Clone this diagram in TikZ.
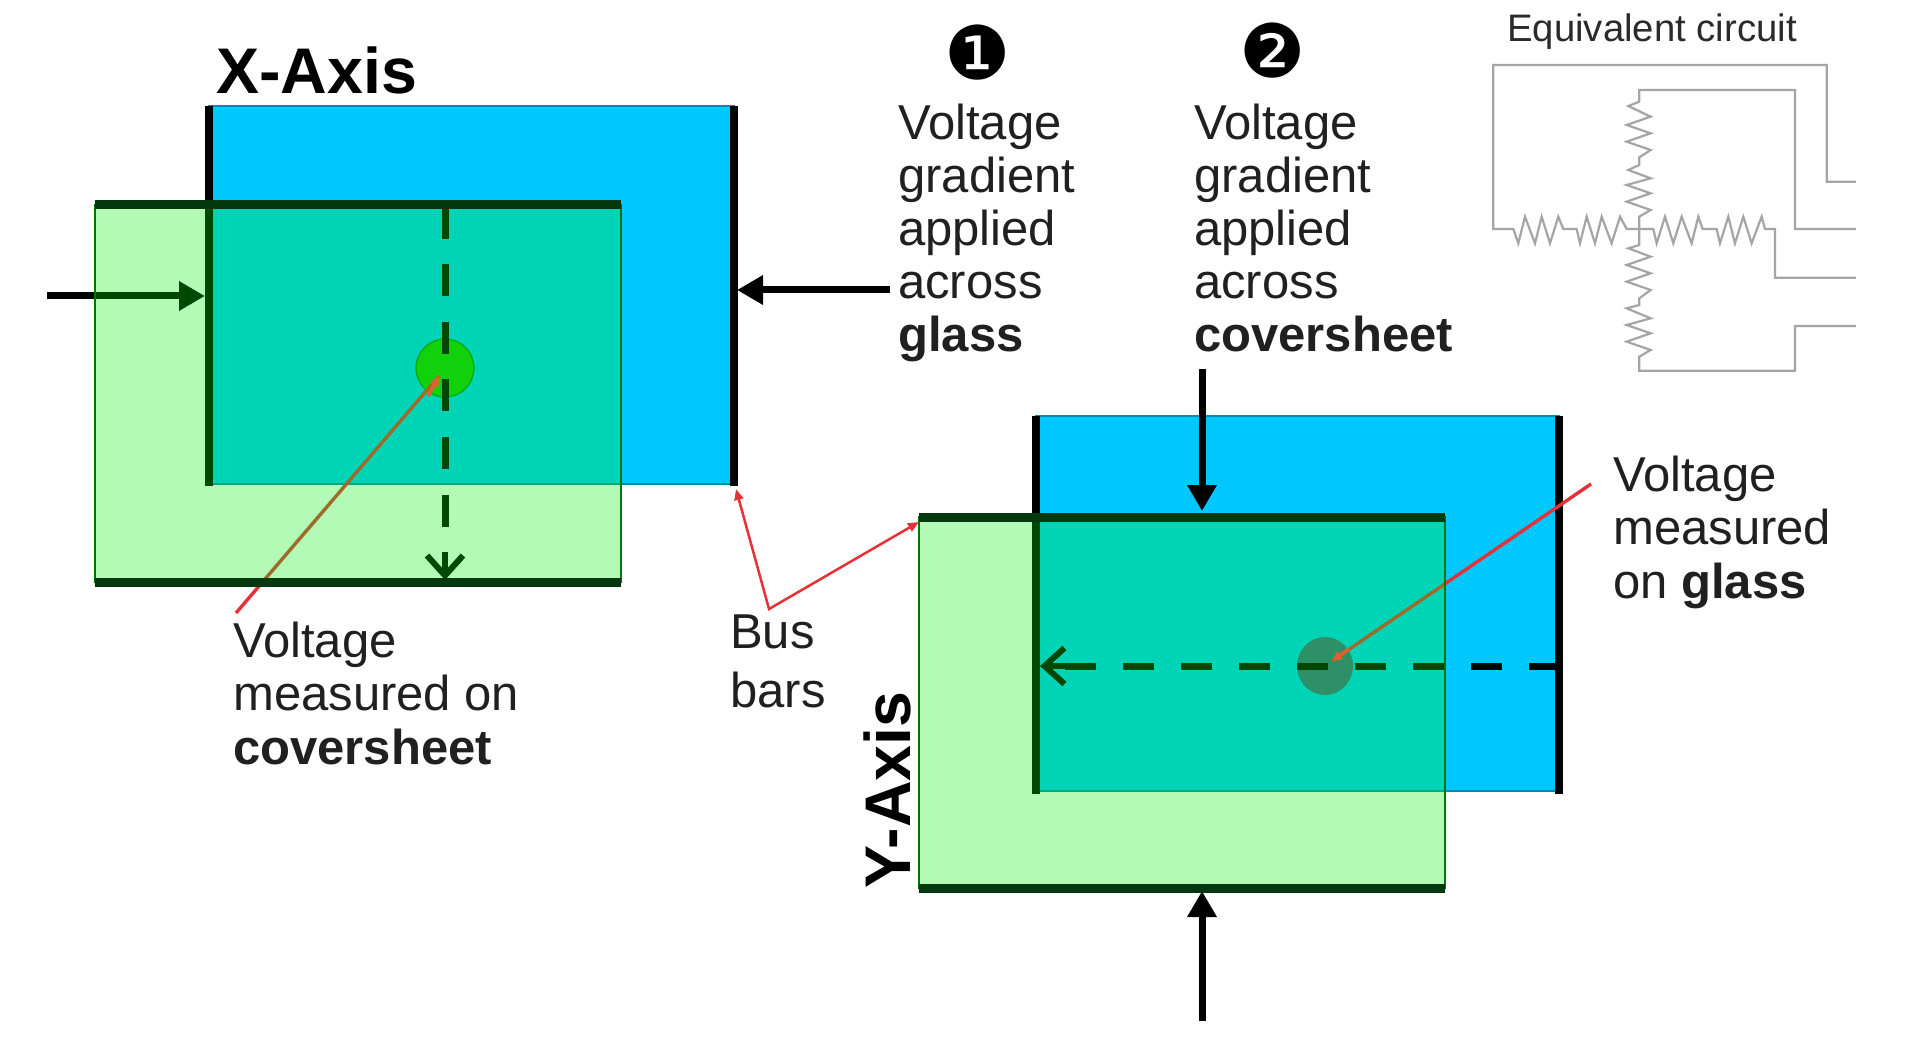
\documentclass[tikz,border=0pt]{standalone}
\usepackage{fontspec}
\setmainfont{Liberation Sans}
\newfontfamily\symfont{DejaVu Sans}
\usetikzlibrary{arrows.meta}
\definecolor{bluesheet}{RGB}{0,200,255}
\definecolor{overlayg}{RGB}{0,240,15}
\definecolor{bardark}{RGB}{4,56,14}
\definecolor{redline}{RGB}{228,50,55}
\definecolor{tipred}{RGB}{225,95,50}
\definecolor{txt}{RGB}{32,32,32}
\definecolor{wire}{RGB}{165,165,165}
\definecolor{dotx}{RGB}{23,196,10}
\definecolor{doty}{RGB}{66,103,140}
\tikzset{
  bluerect/.style={fill=bluesheet,draw=bluesheet!70!black,line width=1.5pt},
  greenrect/.style={fill=overlayg,fill opacity=0.3,draw=none},
  greenedge/.style={draw=bardark!70!green,line width=1.5pt},
  blackbar/.style={draw=black,line width=8.5pt},
  greenbar/.style={draw=bardark,line width=9pt},
  bigarrow/.style={draw=black,line width=7pt,-{Triangle[length=26pt,width=28pt]}},
  dashline/.style={draw=black,line width=7pt,dash pattern=on 32pt off 25.5pt},
  barbarrow/.style={draw=black,line width=6pt,-{Straight Barb[length=20pt,width=36pt,line width=6pt]}},
  redl/.style={draw=redline,line width=3.4pt},
  redtip/.style={draw=tipred,line width=3.4pt,-{Triangle[length=10pt,width=9pt]}},
  busarrow/.style={draw=redline,line width=2.5pt,{Triangle[length=11pt,width=9pt]}-{Triangle[length=11pt,width=9pt]}},
  para/.style={anchor=base west,inner sep=0pt,align=left,text=txt,font=\fontsize{49}{53.2}\selectfont},
  axis/.style={inner sep=0pt,text=black,font=\fontsize{64.5}{64.5}\selectfont\bfseries},
  num/.style={inner sep=0pt,text=black,font=\fontsize{74}{74}\selectfont\symfont},
  wireline/.style={draw=wire,line width=2.2pt,line join=miter},
  eqt/.style={anchor=base west,inner sep=0pt,text=txt!90!gray,font=\fontsize{38.3}{38.3}\selectfont}
}
\begin{document}
\begin{tikzpicture}[x=1pt,y=-1pt]
\useasboundingbox (0,0) rectangle (1920,1040);
\fill[white] (0,0) rectangle (1920,1040);

% ---------- X axis ----------
\coordinate (xbl) at (209,106); \coordinate (xbr) at (734,484);
\coordinate (xgl) at (95,205);  \coordinate (xgr) at (621,582);
\filldraw[bluerect] (xbl) rectangle (xbr);
\draw[blackbar] (209,106) -- (209,486);
\draw[blackbar] (734,106) -- (734,486);
\fill[dotx] (445,368) circle (29);
\draw[dotx!70!black,line width=1.2pt] (445,368) circle (29);
\coordinate (xd1) at (445,207); \coordinate (xd2) at (445,528);
\draw[dashline] (xd1) -- (xd2);
\coordinate (xa1) at (445,552); \coordinate (xa2) at (445,580);
\draw[barbarrow] (xa1) -- (xa2);
\coordinate (xl1) at (47,296); \coordinate (xl2) at (205,296);
\draw[bigarrow] (xl1) -- (xl2);
\coordinate (xm1) at (236,613); \coordinate (xm2) at (439,376);
\draw[redl] (xm1) -- (xm2);
\path[greenrect] (xgl) rectangle (xgr);
\draw[greenedge] (xgl) rectangle (xgr);
\draw[greenbar] (95,205) -- (621,205);
\draw[greenbar] (95,582) -- (621,582);
\coordinate (xt1) at (428,396);
\draw[redtip] (xt1) -- (xm2);
\coordinate (xr1) at (890,290); \coordinate (xr2) at (737,290);
\draw[bigarrow] (xr1) -- (xr2);
\node[axis,anchor=base west] (xaxis) at (216,94) {X-Axis};

% ---------- Y axis ----------
\coordinate (ybl) at (1036,416); \coordinate (ybr) at (1559,791);
\coordinate (ygl) at (919,517);  \coordinate (ygr) at (1445,888);
\filldraw[bluerect] (ybl) rectangle (ybr);
\draw[blackbar] (1036,416) -- (1036,794);
\draw[blackbar] (1559,416) -- (1559,794);
\fill[doty] (1325,666) ellipse (28 and 29);
\coordinate (yd1) at (1556,666); \coordinate (yd2) at (1065,666);
\draw[dashline,dash pattern=on 27pt off 27pt on 31pt off 27pt on 31pt off 27pt on 31pt off 27pt on 31pt off 27pt on 31pt off 27pt on 31pt off 27pt on 31pt off 27pt on 31pt] (yd1) -- (yd2);
\coordinate (ya1) at (1066,666); \coordinate (ya2) at (1040,666);
\draw[barbarrow] (ya1) -- (ya2);
\coordinate (ym1) at (1591,484); \coordinate (ym2) at (1332,661);
\draw[redl] (ym1) -- (ym2);
\path[greenrect] (ygl) rectangle (ygr);
\draw[greenedge] (ygl) rectangle (ygr);
\draw[greenbar] (919,517) -- (1445,517);
\draw[greenbar] (919,888) -- (1445,888);
\coordinate (yt1) at (1349,649);
\draw[redtip] (yt1) -- (ym2);
\coordinate (yu1) at (1202,369); \coordinate (yu2) at (1202,511);
\draw[bigarrow] (yu1) -- (yu2);
\coordinate (yw1) at (1202,1021); \coordinate (yw2) at (1202,891);
\draw[bigarrow] (yw1) -- (yw2);
\node[axis,anchor=base west,rotate=90] (yaxis) at (910,889) {Y-Axis};

% ---------- Bus bars ----------
\coordinate (bx) at (736,489); \coordinate (bv) at (769,609); \coordinate (by) at (919,522);
\draw[busarrow] (bx) -- (bv) -- (by);

% ---------- Text ----------
\node[num] (n1) at (978,53) {❶};
\node[num] (n2) at (1273,51) {❷};
\node[para] (t1) at (898,352) {Voltage\\gradient\\applied\\across\\\textbf{glass}};
\node[para] (t2) at (1194,352) {Voltage\\gradient\\applied\\across\\\textbf{coversheet}};
\node[para] (t3) at (233,764) {Voltage\\measured on\\\textbf{coversheet}};
\node[para] (t4) at (730,707) {Bus\\[5pt]bars};
\node[para] (t5) at (1613,598) {Voltage\\measured\\on \textbf{glass}};
\node[eqt] (eq) at (1507,42) {Equivalent circuit};

% ---------- Circuit ----------
\begin{scope}[x=0.33333pt,y=-0.33333pt,shift={(4440,0)}]
\draw[wireline] (1128,545) -- (1040,545) -- (1040,195) -- (40,195) -- (40,687) -- (100,687)
  -- (115,730) -- (135,650) -- (165,730) -- (185,650) -- (210,730) -- (235,650) -- (250,687) -- (290,687)
  -- (300,730) -- (320,650) -- (345,730) -- (365,650) -- (395,730) -- (420,650) -- (440,687)
  -- (520,687) -- (530,730) -- (555,650) -- (580,730) -- (605,650) -- (635,730) -- (655,650) -- (668,687) -- (710,687)
  -- (720,730) -- (745,650) -- (765,730) -- (790,650) -- (815,730) -- (845,650) -- (855,687) -- (885,687)
  -- (885,833) -- (1128,833);
\draw[wireline] (1128,687) -- (945,687) -- (945,270) -- (478,270) -- (478,305)
  -- (445,318) -- (512,350) -- (440,375) -- (512,400) -- (440,425) -- (512,450) -- (478,472) -- (478,495)
  -- (445,510) -- (512,535) -- (440,555) -- (512,580) -- (440,605) -- (512,630) -- (478,650) -- (478,735)
  -- (445,745) -- (512,770) -- (440,795) -- (512,820) -- (440,845) -- (512,870) -- (478,895) -- (478,915)
  -- (440,925) -- (512,955) -- (440,975) -- (512,1000) -- (440,1025) -- (512,1050) -- (478,1070)
  -- (478,1112) -- (945,1112) -- (945,978) -- (1128,978);
\end{scope}
\end{tikzpicture}
\end{document}
